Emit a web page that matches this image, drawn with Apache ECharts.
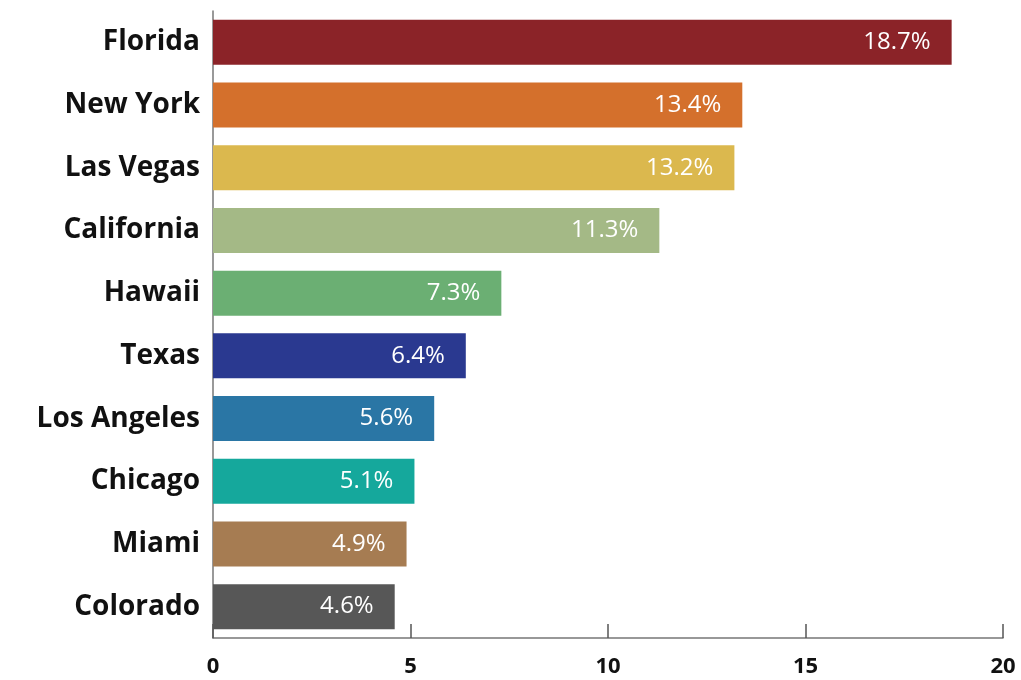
<!DOCTYPE html>
<html>
<head>
<meta charset="utf-8">
<script src="https://cdn.jsdelivr.net/npm/echarts@6/dist/echarts.min.js"></script>
<style>
  html, body { margin: 0; padding: 0; background: #fff; }
  #chart { width: 1021px; height: 680px; }
</style>
</head>
<body>
<div id="chart"></div>
<script>
// categories top to bottom
const places = ['Florida', 'New York', 'Las Vegas', 'California', 'Hawaii', 'Texas', 'Los Angeles', 'Chicago', 'Miami', 'Colorado']
const shares = [18.7, 13.4, 13.2, 11.3, 7.3, 6.4, 5.6, 5.1, 4.9, 4.6]
const barColors = ['#8B2328', '#D4702C', '#DBB84E', '#A4B986', '#6BAF73', '#2A3990', '#2A76A5', '#15A89C', '#A67C52', '#575757']
const xTicks = [0, 5, 10, 15, 20]

const chart = echarts.init(document.getElementById('chart'))

chart.setOption({
  animation: false,
  textStyle: { fontFamily: '"Open Sans", sans-serif' },
  grid: { left: 213, right: 18, top: 11, bottom: 42 },
  xAxis: {
    type: 'value',
    min: xTicks[0],
    max: xTicks[xTicks.length - 1],
    interval: 5,
    splitLine: { show: false },
    axisLine: { show: true, lineStyle: { color: '#777', width: 1.5 } },
    axisTick: { show: true, inside: true, length: 14, lineStyle: { color: '#555', width: 1.5 } },
    axisLabel: { color: '#111', fontSize: 22, fontWeight: 'bold', margin: 18 }
  },
  yAxis: {
    type: 'category',
    inverse: true,
    data: places,
    axisLine: { show: true, lineStyle: { color: '#777', width: 1.5 } },
    axisTick: { show: false },
    axisLabel: { color: '#111', fontSize: 28, fontWeight: 'bold', margin: 13, padding: [4, 0, 0, 0] }
  },
  series: [{
    type: 'bar',
    barWidth: 45,
    data: shares.map((v, i) => ({ value: v, itemStyle: { color: barColors[i] } })),
    label: {
      show: true,
      position: 'insideRight',
      distance: 21,
      color: '#fff',
      fontSize: 24,
      formatter: p => p.value + '%'
    }
  }]
})
</script>
</body>
</html>
